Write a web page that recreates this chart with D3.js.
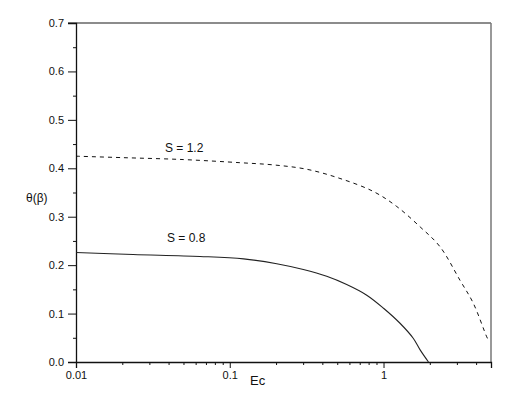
<!DOCTYPE html>
<html>
<head>
<meta charset="utf-8">
<script src="https://cdn.jsdelivr.net/npm/d3@7"></script>
<style>
  body { margin: 0; background: #fff; }
  text { font-family: "Liberation Sans", Arial, sans-serif; fill: #111; }
</style>
</head>
<body>
<div id="chart"></div>
<script>
// values
var ecS12 = [0.01, 0.02, 0.05, 0.117, 0.192, 0.317, 0.521, 0.86, 1.22, 1.73, 2.33, 3.14, 3.84, 4.69, 4.85]
var thS12 = [0.425, 0.422, 0.418, 0.4115, 0.407, 0.398, 0.379, 0.352, 0.321, 0.279, 0.238, 0.169, 0.121, 0.052, 0.043]

var ecS08 = [0.01, 0.0235, 0.064, 0.123, 0.202, 0.301, 0.427, 0.576, 0.778, 1.0, 1.28, 1.56, 1.73, 1.96]
var thS08 = [0.226, 0.222, 0.218, 0.213, 0.203, 0.191, 0.177, 0.160, 0.138, 0.111, 0.080, 0.049, 0.025, 0.0]

var xTickVals = [0.01, 0.1, 1]
var xTickLabels = ["0.01", "0.1", "1"]
var yTickVals = [0, 0.1, 0.2, 0.3, 0.4, 0.5, 0.6, 0.7]

var width = 519
var height = 396
var margin = {left: 76, right: 28, top: 23, bottom: 34}

var svg = d3.select("#chart").append("svg")
  .attr("width", width)
  .attr("height", height)

var x = d3.scaleLog().domain([0.01, 5]).range([margin.left, width - margin.right])
var y = d3.scaleLinear().domain([0, 0.7]).range([height - margin.bottom, margin.top])

// frame: top and right in grey
svg.append("line")
  .attr("x1", x(0.01) - 8).attr("x2", x(5))
  .attr("y1", y(0.7)).attr("y2", y(0.7))
  .attr("stroke", "#666").attr("stroke-width", 1.3)
svg.append("line")
  .attr("x1", x(5)).attr("x2", x(5))
  .attr("y1", y(0.7)).attr("y2", y(0))
  .attr("stroke", "#777").attr("stroke-width", 1.5)

// minor ticks
var xMinor = []
;[0.01, 0.1, 1].forEach(d => {
  for (var k = 2; k <= 9; k++) if (d * k <= 5) xMinor.push(d * k)
})
var yMinor = d3.range(0.05, 0.7, 0.1)

var xAxis = svg.append("g")
  .attr("transform", "translate(0," + y(0) + ")")
  .call(d3.axisBottom(x).tickValues(xTickVals).tickFormat((d, i) => xTickLabels[i]).tickSize(6).tickPadding(3))
xAxis.append("g")
  .call(d3.axisBottom(x).tickValues(xMinor).tickFormat("").tickSize(3))
  .select(".domain").remove()

var yAxis = svg.append("g")
  .attr("transform", "translate(" + x(0.01) + ",0)")
  .call(d3.axisLeft(y).tickValues(yTickVals).tickFormat(d3.format(".1f")).tickSize(8).tickPadding(4))
yAxis.append("g")
  .call(d3.axisLeft(y).tickValues(yMinor).tickFormat("").tickSize(3))
  .select(".domain").remove()

svg.selectAll(".domain").attr("stroke", "#111").attr("stroke-width", 1.3)
svg.selectAll(".tick line").attr("stroke", "#111")
svg.selectAll(".tick text").style("font-size", "11px").attr("fill", "#222")

// curves
var line = d3.line()
  .x(d => x(d[0]))
  .y(d => y(d[1]))
  .curve(d3.curveCatmullRom.alpha(0.5))

svg.append("path")
  .datum(d3.zip(ecS12, thS12))
  .attr("d", line)
  .attr("fill", "none")
  .attr("stroke", "#111")
  .attr("stroke-width", 1)
  .attr("stroke-dasharray", "4,4")

svg.append("path")
  .datum(d3.zip(ecS08, thS08))
  .attr("d", line)
  .attr("fill", "none")
  .attr("stroke", "#222")
  .attr("stroke-width", 1.1)

// labels
svg.append("text").attr("x", 165).attr("y", 152).style("font-size", "12px").text("S = 1.2")
svg.append("text").attr("x", 167).attr("y", 242).style("font-size", "12px").text("S = 0.8")
svg.append("text").attr("x", 250).attr("y", 385).style("font-size", "13px").text("Ec")
svg.append("text").attr("x", 26).attr("y", 202).style("font-size", "12px").text("θ(β)")
</script>
</body>
</html>
